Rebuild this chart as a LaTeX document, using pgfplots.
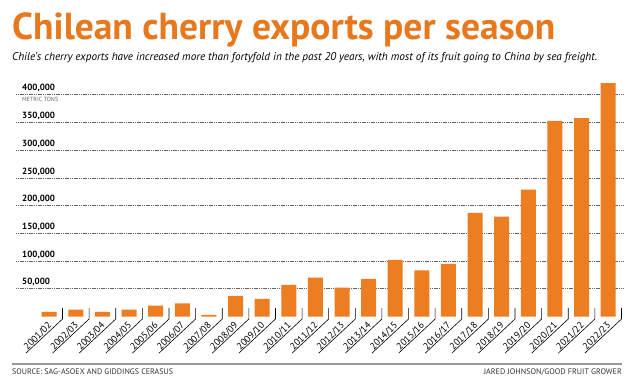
\documentclass[border=0pt]{standalone}
\usepackage{pgfplots}
\pgfplotsset{compat=1.18}
\usepackage{fontspec}
\setmainfont{PT Sans}
\definecolor{cherryorange}{RGB}{237,125,33}
\definecolor{titleorange}{RGB}{232,120,30}
\definecolor{gridgray}{RGB}{100,100,100}
\tikzset{xlab/.style={rotate=45, anchor=base east, inner sep=0pt, font=\fontsize{9.5}{11}\selectfont}}
\newcommand{\xl}[2]{\node[xlab] at ([xshift=3pt,yshift=-9.5pt]axis cs:#1,0) {#2};}
\begin{document}
\begin{tikzpicture}
\useasboundingbox (0,0) rectangle (636pt,-385pt);
% title and subtitle
\node[anchor=base west, inner sep=0pt, text=titleorange] at (12pt,-40pt)
  {\resizebox{543pt}{!}{\bfseries Chilean cherry exports per season}};
\node[anchor=base west, inner sep=0pt] at (12pt,-61pt)
  {\resizebox{585pt}{!}{\itshape Chile’s cherry exports have increased more than fortyfold in the past 20 years, with most of its fruit going to China by sea freight.}};
\begin{axis}[
  at={(16pt,-316.5pt)}, anchor=south west,
  scale only axis, width=606.7pt, height=238.4pt,
  xmin=-1.247, xmax=21.545, ymin=0, ymax=430000,
  clip=false,
  axis line style={draw=none},
  major tick length=0pt,
  ytick={50000,100000,...,400000},
  ymajorgrids,
  grid style={gridgray, line width=0.6pt, dash pattern=on 1.2pt off 0.6pt},
  scaled y ticks=false,
  yticklabel style={anchor=base west, inner sep=0pt, xshift=6pt, yshift=3.8pt, font=\fontsize{9}{11}\selectfont\bfseries, /pgf/number format/.cd, fixed, 1000 sep={,}, assume math mode=true},
  xtick=\empty,
]
\addplot[ybar, bar width=15pt, fill=cherryorange, draw=none] coordinates {
(0,8500) (1,12600) (2,8500) (3,12600) (4,19800) (5,23500) (6,3000)
(7,37000) (8,32000) (9,57000) (10,70000) (11,52000) (12,68000)
(13,102000) (14,83000) (15,95000) (16,187000) (17,180000) (18,229000)
(19,353000) (20,358000) (21,421000)};
\pgfplotsinvokeforeach{0.5,1.5,...,21.5}{
  \draw[line width=0.6pt] ([yshift=8.5pt]axis cs:#1,0) -- ([yshift=-2.5pt]axis cs:#1,0) -- ++(223:50pt);
}
\xl{0}{2001/02}\xl{1}{2002/03}\xl{2}{2003/04}\xl{3}{2004/05}
\xl{4}{2005/06}\xl{5}{2006/07}\xl{6}{2007/08}\xl{7}{2008/09}
\xl{8}{2009/10}\xl{9}{2010/11}\xl{10}{2011/12}\xl{11}{2012/13}
\xl{12}{2013/14}\xl{13}{2014/15}\xl{14}{2015/16}\xl{15}{2016/17}
\xl{16}{2017/18}\xl{17}{2018/19}\xl{18}{2019/20}\xl{19}{2020/21}
\xl{20}{2021/22}\xl{21}{2022/23}
\end{axis}
\node[anchor=base west, inner sep=0pt, text=gridgray] at (22pt,-101pt) {\resizebox{36pt}{!}{METRIC TONS}};
% bottom rule and credits
\draw[gray!80, line width=1.3pt] (12pt,-364pt) -- (622pt,-364pt);
\node[anchor=base west, inner sep=0pt, text=black!80] at (12pt,-374pt) {\resizebox{161pt}{!}{SOURCE: SAG-ASOEX AND GIDDINGS CERASUS}};
\node[anchor=base east, inner sep=0pt, text=black!80] at (622pt,-374pt) {\resizebox{138pt}{!}{JARED JOHNSON/GOOD FRUIT GROWER}};
\end{tikzpicture}
\end{document}
